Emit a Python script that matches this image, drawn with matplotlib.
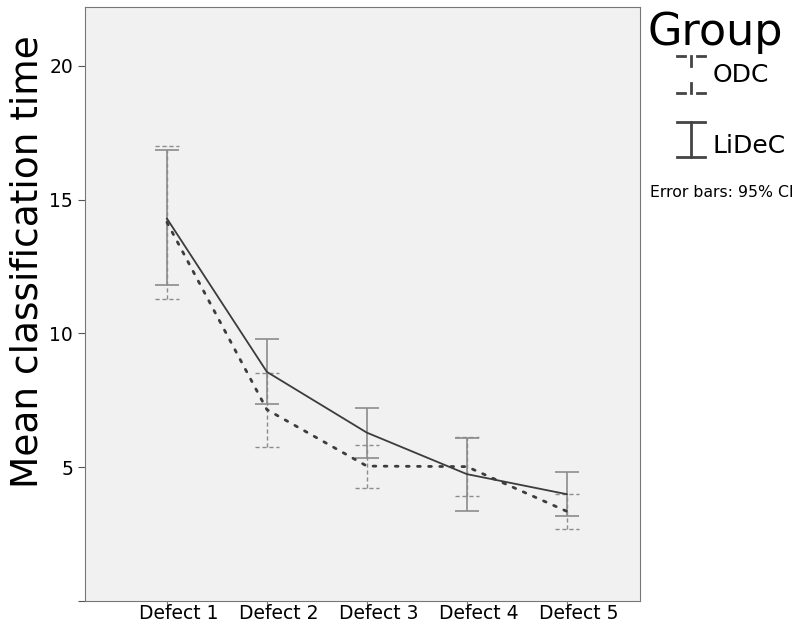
import matplotlib.pyplot as plt
import matplotlib.transforms as mtransforms
from matplotlib.lines import Line2D

categories = ['Defect 1', 'Defect 2', 'Defect 3', 'Defect 4', 'Defect 5']

lidec_mean = [14.29, 8.56, 6.29, 4.74, 3.99]
lidec_low = [11.79, 7.36, 5.35, 3.38, 3.18]
lidec_high = [16.85, 9.78, 7.21, 6.09, 4.81]

odc_mean = [14.15, 7.15, 5.04, 5.02, 3.35]
odc_low = [11.27, 5.75, 4.23, 3.92, 2.69]
odc_high = [17.00, 8.53, 5.83, 6.12, 3.99]

x = list(range(1, len(categories) + 1))
cap = 0.12

fig = plt.figure(figsize=(8.04, 6.26), dpi=100)
ax = fig.add_axes([0.1057, 0.04, 0.690, 0.949])
ax.set_facecolor('#f1f1f1')

# error bars
ax.vlines(x, odc_low, odc_high, colors='#8c8c8c', linestyles=(0, (3, 2)), linewidth=1)
ax.hlines(odc_low, [i - cap for i in x], [i + cap for i in x], colors='#8c8c8c',
          linestyles=(0, (3, 2)), linewidth=1)
ax.hlines(odc_high, [i - cap for i in x], [i + cap for i in x], colors='#8c8c8c',
          linestyles=(0, (3, 2)), linewidth=1)
ax.vlines(x, lidec_low, lidec_high, colors='#8c8c8c', linewidth=1.2)
ax.hlines(lidec_low, [i - cap for i in x], [i + cap for i in x], colors='#8c8c8c', linewidth=1.2)
ax.hlines(lidec_high, [i - cap for i in x], [i + cap for i in x], colors='#8c8c8c', linewidth=1.2)

# mean lines
ax.plot(x, odc_mean, color='#3c3c3c', linestyle=(0, (1, 3)), linewidth=2, dash_capstyle='round')
ax.plot(x, lidec_mean, color='#3c3c3c', linewidth=1.3)

ax.set_xlim(0.18, 5.73)
ax.set_ylim(0, 22.2)
ax.set_xticks(x)
ax.set_xticklabels(categories, fontsize=13.5)
ax.set_yticks([0, 5, 10, 15, 20])
ax.set_yticklabels(['', '5', '10', '15', '20'], fontsize=13.5)
ax.tick_params(axis='x', length=4, pad=-2, color='#777777')
ax.tick_params(axis='y', length=5, color='#555555')
# labels sit a bit to the right of their ticks, as in the original
shift = mtransforms.ScaledTranslation(0.12, 0, fig.dpi_scale_trans)
for lab in ax.get_xticklabels():
    lab.set_transform(lab.get_transform() + shift)
for s in ax.spines.values():
    s.set_color('#777777')
ax.set_ylabel('Mean classification time', fontsize=27)
ax.yaxis.set_label_coords(-0.072, 0.571)

# legend
fig.text(0.805, 0.948, 'Group', fontsize=32, ha='left', va='center')
ic = '#444444'
x0, x1, xm = 0.842, 0.877, 0.8595
yt, yb = 0.910, 0.852
seg = 0.010
for y in (yt, yb):
    fig.add_artist(Line2D([x0, x0 + seg], [y, y], color=ic, linewidth=2))
    fig.add_artist(Line2D([x1 - seg, x1], [y, y], color=ic, linewidth=2))
fig.add_artist(Line2D([xm, xm], [yt, yt - 0.016], color=ic, linewidth=2))
fig.add_artist(Line2D([xm, xm], [yb, yb + 0.016], color=ic, linewidth=2))
fig.text(0.886, 0.880, 'ODC', fontsize=18, ha='left', va='center')
fig.add_artist(Line2D([x0, x1], [0.805, 0.805], color=ic, linewidth=2))
fig.add_artist(Line2D([x0, x1], [0.750, 0.750], color=ic, linewidth=2))
fig.add_artist(Line2D([xm, xm], [0.750, 0.805], color=ic, linewidth=2))
fig.text(0.886, 0.766, 'LiDeC', fontsize=18, ha='left', va='center')
fig.text(0.808, 0.692, 'Error bars: 95% CI', fontsize=11.3, ha='left', va='center')

fig.savefig('out.png', dpi=100)
